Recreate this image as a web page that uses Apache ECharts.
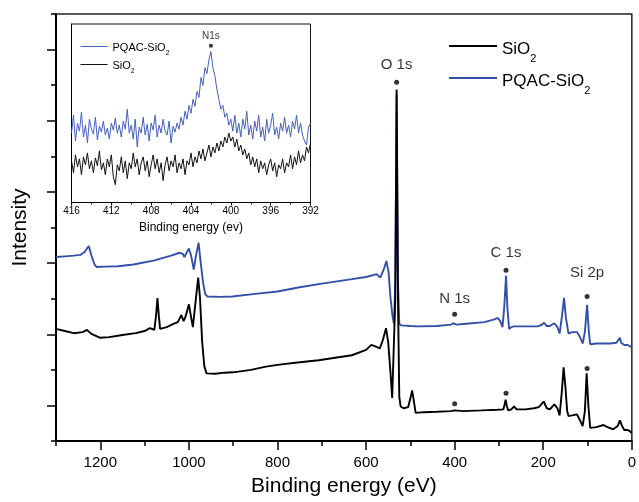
<!DOCTYPE html>
<html>
<head>
<meta charset="utf-8">
<script src="https://cdn.jsdelivr.net/npm/echarts@6/dist/echarts.min.js"></script>
<style>html,body{margin:0;padding:0;background:#fff}#c{width:639px;height:502px}</style>
</head>
<body>
<div id="c"></div>
<script>
// ---------- DATA ----------
const surveyTickLabels = ['1300','1200','1100','1000','900','800','700','600','500','400','300','200','100','0'];
const intensityTickSlots = ['0','1','2','3','4','5','6','7','8','9','10','11','12'];

const sio2Energy = [1300,1280,1260,1240,1230,1220,1200,1180,1150,1120,1100,1088,1078,1074,1071,1068,1065,1050,1035,1025,1017,1012,1008,1004,1000,996,991,985,979,975,970,965,960,940,920,900,860,826,800,760,707,670,632,600,588,575,569,562,555,550,545,541,537,534,531,528,525,522,515,505,499,496,492,488,470,440,409,400,380,340,303,290,287,285,282,279,272,266,260,240,221,210,199,192,185,175,168,163,158,154,150,146,143,135,124,117,111,106,102,98,94,80,64,55,42,32,27,22,17,10,5,0];
const sio2Intensity = [31.5,30.9,30.3,30.6,31.2,30.1,29.0,29.2,29.8,30.3,30.9,31.7,31.2,35.4,40.2,35.4,31.5,32.0,32.9,33.4,35.4,33.7,34.8,36.5,38.4,35.5,32.0,39.0,45.9,40.4,27.8,20.9,19.0,18.9,19.2,19.3,20.0,20.9,21.4,22.0,22.7,23.4,24.1,25.6,27.0,26.4,26.0,28.4,31.7,27.8,19.5,12.1,12.5,40,98.8,40,12.5,9.7,9.2,9.5,12.5,14.2,11.1,7.9,8.1,8.2,8.4,8.6,8.4,8.6,8.8,8.9,10.3,11.6,9.7,8.6,8.9,9.7,8.9,8.9,9.2,9.5,11.1,9.2,8.9,10.3,9.2,7.2,13.9,20.7,15.3,8.4,7.0,7.2,7.5,5.8,4.2,8.4,19.0,9.7,3.7,3.9,4.5,3.9,3.3,4.2,5.8,4.2,3.1,3.1,2.8,2.2];

const pqacEnergy = [1300,1280,1260,1245,1235,1226,1220,1213,1208,1190,1160,1125,1080,1040,1021,1014,1010,1004,1000,995,989,984,978,974,968,963,958,930,902,860,800,750,707,632,600,576,568,565,560,554,549,545,540,537,534,531,528,525,520,500,483,440,408,403,400,396,380,333,310,303,297,292,288,284,281,277,272,266,240,213,204,198,192,185,175,168,163,158,153,149,143,135,124,117,111,106,101,97,94,80,49,35,30,27,24,17,10,5,0];
const pqacIntensity = [51.7,51.9,52.1,52.3,53.2,54.8,52.1,49.6,48.9,49.0,49.1,49.6,50.7,52.1,52.9,52.6,51.7,53.2,54.1,52.1,48.2,52.1,55.7,50.9,44.5,41.2,40.6,40.5,40.6,41.2,42.0,43.2,44.1,45.5,46.1,46.9,45.9,45.5,48.2,50.6,47.3,40.4,34.8,32.9,45,97.4,45,32.9,32.5,32.3,32.2,32.3,32.7,33.1,33.4,32.7,32.9,33.4,34.2,34.6,33.7,32.0,37.6,46.4,37.6,31.5,32.0,32.2,32.2,32.2,32.6,33.2,32.3,32.3,33.1,32.0,30.2,34.8,40.2,34.8,30.2,30.6,30.6,29.2,27.4,30.6,38.3,30.6,27.2,27.4,27.4,27.6,28.4,29.0,27.6,27.0,27.0,26.7,26.3];

const peakEnergy    = [531, 400, 284, 101, 400, 284, 101];
const peakIntensity = [100.8, 35.6, 48.0, 40.6, 10.5, 13.4, 20.4];
const peakLabel     = ['O 1s', 'N 1s', 'C 1s', 'Si 2p', '', '', ''];

// Inset N1s region: 416 -> 392 eV, 0.2 eV steps
const n1sStart = 416, n1sStep = 0.2;
const n1sPqac = [
 70,88,62,80,72,91,66,78,60,84,
 74,69,86,63,77,71,82,68,75,64,
 80,73,85,70,78,66,82,74,94,70,
 78,64,84,56,76,70,86,68,79,62,
 80,73,88,66,78,70,84,72,68,82,
 60,77,71,80,74,86,78,92,84,98,
 90,104,97,112,106,126,118,136,130,144,
 152,136,128,114,104,94,98,86,90,78,
 84,72,88,70,80,66,84,74,92,68,
 78,64,82,72,88,66,76,62,84,70,
 78,90,68,76,64,80,72,86,70,78,
 66,82,74,88,70,80,68,62,58,76,
 80];
const n1sSio2 = [
 42,30,48,36,44,28,46,38,50,34,
 42,30,45,37,52,33,40,28,44,36,
 48,26,18,38,32,46,30,42,24,40,
 34,50,36,44,28,40,46,32,42,26,
 38,48,34,44,30,40,22,38,46,32,
 42,36,48,30,40,34,44,28,42,38,
 50,36,46,40,52,44,54,42,50,58,
 46,56,50,60,52,62,56,66,60,70,
 62,66,56,64,52,58,48,54,44,50,
 38,46,36,44,30,42,34,40,28,38,
 44,32,40,26,38,34,44,30,40,36,
 48,34,46,38,52,40,48,42,56,50,
 60];
const n1sPeakEnergy = [402.0];
const n1sPeakIntensity = [158];
const n1sPeakLabel = ['N1s'];

// ---------- CHART ----------
const FONT = '"Liberation Sans", Arial, Helvetica, sans-serif';
const BLUE = '#3350a8';
const BLUE_INSET = '#4560b8';
const zip = (xs, ys) => xs.map((x, i) => [x, ys[i]]);
const n1sEnergy = n1sPqac.map((_, i) => +(n1sStart - i * n1sStep).toFixed(1));
const peakGap = [7, 5.5, 7.5, 14, 0, 0, 0];

const legendText = name => {
  const base = name.replace(/ \(N1s\)$/, '');
  return '{a|' + base.slice(0, -1) + '}{s|' + base.slice(-1) + '}';
};
const rich = (big, small, padA, padS, padB) => ({
  a: {fontSize: big, lineHeight: big + 3, padding: [padA, 0, padB, 0], verticalAlign: 'top', color: '#000', fontFamily: FONT},
  s: {fontSize: small, lineHeight: small + 1, padding: [padS, 0, padB, 0], verticalAlign: 'top', color: '#000', fontFamily: FONT}
});

const blackTick = {color: '#000', width: 1.5};

const option = {
  animation: false,
  backgroundColor: '#fff',
  textStyle: {fontFamily: FONT},
  grid: [
    {left: 56, right: 3, top: 14, bottom: 57, show: true, borderColor: '#222', borderWidth: 1.5, backgroundColor: 'transparent'},
    {left: 71.5, top: 24, width: 239, height: 178.5, show: true, borderColor: '#111', borderWidth: 1, backgroundColor: '#fff'}
  ],
  legend: [
    {data: ['SiO2', 'PQAC-SiO2'], orient: 'vertical', left: 449, top: 36, padding: 0, icon: 'rect', itemWidth: 48, itemHeight: 2, itemGap: 1,
     selectedMode: false, formatter: legendText, textStyle: {rich: rich(17, 11, 5, 17, 3)}},
    {data: ['PQAC-SiO2 (N1s)', 'SiO2 (N1s)'], orient: 'vertical', left: 80.5, top: 39.5, padding: 0, icon: 'rect', itemWidth: 27, itemHeight: 1, itemGap: 0,
     selectedMode: false, formatter: legendText, textStyle: {rich: rich(11, 7, 3, 10, 1)}}
  ],
  xAxis: [
    {gridIndex: 0, type: 'value', min: 0, max: 1300, inverse: true, show: false},
    {gridIndex: 0, type: 'category', position: 'bottom', data: surveyTickLabels, boundaryGap: false,
     axisLine: {show: true, lineStyle: {color: '#000', width: 2}},
     axisTick: {show: true, length: 9, interval: (i, v) => Number(v) % 200 === 0, lineStyle: blackTick},
     axisLabel: {interval: (i, v) => Number(v) % 200 === 0, fontSize: 15, margin: 14, color: '#000', fontFamily: FONT},
     splitLine: {show: false},
     name: 'Binding energy (eV)', nameLocation: 'middle', nameGap: 35,
     nameTextStyle: {fontSize: 21, color: '#000', fontFamily: FONT}},
    {gridIndex: 0, type: 'category', position: 'bottom', data: surveyTickLabels, boundaryGap: false,
     axisLine: {show: false}, axisTick: {show: true, length: 5, interval: 0, lineStyle: blackTick},
     axisLabel: {show: false}, splitLine: {show: false}},
    {gridIndex: 1, type: 'value', min: 392, max: 416, interval: 4, inverse: true,
     axisLine: {show: true, lineStyle: {color: '#000', width: 1}},
     axisTick: {show: true, length: 3, lineStyle: {color: '#000'}},
     minorTick: {show: true, splitNumber: 2, length: 2, lineStyle: {color: '#000'}},
     axisLabel: {fontSize: 10, margin: 4, color: '#000', fontFamily: FONT},
     splitLine: {show: false}, minorSplitLine: {show: false},
     name: 'Binding energy (ev)', nameLocation: 'middle', nameGap: 19,
     nameTextStyle: {fontSize: 12, color: '#000', fontFamily: FONT}}
  ],
  yAxis: [
    {gridIndex: 0, type: 'value', min: 0, max: 120, show: false},
    {gridIndex: 0, type: 'category', position: 'left', data: intensityTickSlots, boundaryGap: false,
     axisLine: {show: true, lineStyle: {color: '#000', width: 2}},
     axisTick: {show: true, length: 9, interval: (i) => i % 2 === 1, lineStyle: blackTick},
     axisLabel: {show: false}, splitLine: {show: false},
     name: 'Intensity', nameLocation: 'middle', nameGap: 25,
     nameTextStyle: {fontSize: 21, color: '#000', fontFamily: FONT}},
    {gridIndex: 0, type: 'category', position: 'left', data: intensityTickSlots, boundaryGap: false,
     axisLine: {show: false}, axisTick: {show: true, length: 5, interval: 0, lineStyle: blackTick},
     axisLabel: {show: false}, splitLine: {show: false}},
    {gridIndex: 1, type: 'value', min: 0, max: 180,
     axisLine: {show: true, lineStyle: {color: '#000', width: 1}},
     axisTick: {show: false}, axisLabel: {show: false}, splitLine: {show: false}}
  ],
  series: [
    {name: 'PQAC-SiO2', type: 'line', xAxisIndex: 0, yAxisIndex: 0, data: zip(pqacEnergy, pqacIntensity),
     symbol: 'none', lineStyle: {color: BLUE, width: 1.9}, itemStyle: {color: BLUE}, z: 2},
    {name: 'SiO2', type: 'line', xAxisIndex: 0, yAxisIndex: 0, data: zip(sio2Energy, sio2Intensity),
     symbol: 'none', lineStyle: {color: '#000', width: 1.9}, itemStyle: {color: '#000'}, z: 3},
    {name: 'peaks', type: 'scatter', xAxisIndex: 0, yAxisIndex: 0, symbolSize: 5, itemStyle: {color: '#000'}, z: 5,
     data: peakEnergy.map((e, i) => ({
       name: peakLabel[i], value: [e, peakIntensity[i]],
       label: {show: peakLabel[i] !== '', position: 'top', distance: peakGap[i], formatter: '{b}',
               fontSize: 15, color: '#000', fontFamily: FONT}
     }))},
    {name: 'PQAC-SiO2 (N1s)', type: 'line', xAxisIndex: 3, yAxisIndex: 3, data: zip(n1sEnergy, n1sPqac),
     symbol: 'none', lineStyle: {color: BLUE_INSET, width: 1}, itemStyle: {color: BLUE_INSET}, z: 6},
    {name: 'SiO2 (N1s)', type: 'line', xAxisIndex: 3, yAxisIndex: 3, data: zip(n1sEnergy, n1sSio2),
     symbol: 'none', lineStyle: {color: '#111', width: 1}, itemStyle: {color: '#111'}, z: 6},
    {name: 'n1s peak', type: 'scatter', xAxisIndex: 3, yAxisIndex: 3, symbolSize: 4, itemStyle: {color: '#000'}, z: 7,
     data: n1sPeakEnergy.map((e, i) => ({
       name: n1sPeakLabel[i], value: [e, n1sPeakIntensity[i]],
       label: {show: true, position: 'top', distance: 3, formatter: '{b}', fontSize: 10, color: '#000', fontFamily: FONT}
     }))}
  ]
};

const chart = echarts.init(document.getElementById('c'), null, {renderer: 'canvas'});
chart.setOption(option);
</script>
</body>
</html>
